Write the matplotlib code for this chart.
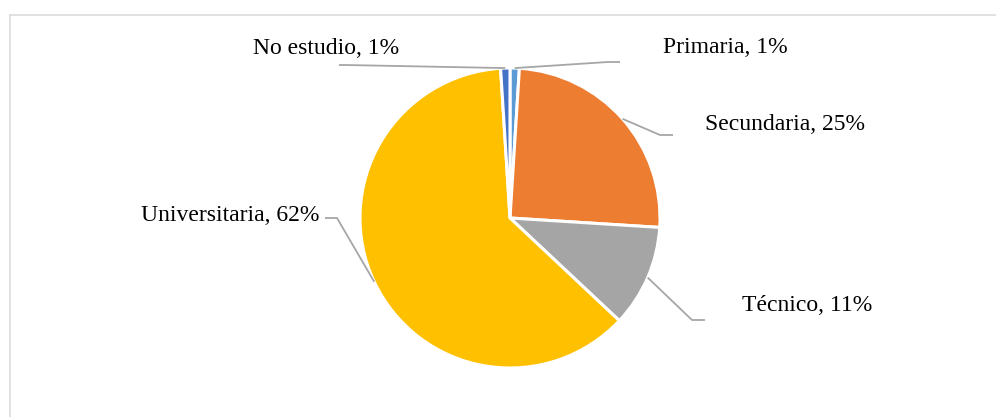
import numpy as np
import matplotlib
matplotlib.use("Agg")
import matplotlib.pyplot as plt
from matplotlib.lines import Line2D

# Nivel de estudios (porcentaje), en sentido horario desde arriba
categories = ["Primaria", "Secundaria", "Técnico", "Universitaria", "No estudio"]
values = [1, 25, 11, 62, 1]
colors = ["#5B9BD5", "#ED7D31", "#A5A5A5", "#FFC000", "#4472C4"]

W, H = 996, 417
fig = plt.figure(figsize=(W / 100, H / 100), dpi=100)
ax = fig.add_axes([0, 0, 1, 1])
ax.set_xlim(0, W)
ax.set_ylim(0, H)
ax.set_aspect("equal")
ax.axis("off")

cx, cy, r = 510, H - 218, 150
wedges, _ = ax.pie(values, colors=colors, startangle=90, counterclock=False,
                   center=(cx, cy), radius=r, frame=True,
                   wedgeprops=dict(edgecolor="white", linewidth=2.2))
ax.set_xlim(0, W)
ax.set_ylim(0, H)
ax.axis("off")

# label layout: (elbow point, end point, text x, text baseline y, alignment) in pixels from top-left
layout = {
    "Primaria":      ((608, 62), (620, 62), 663, 53, "left"),
    "Secundaria":    ((660, 135), (673, 135), 705, 130, "left"),
    "Técnico":       ((692, 320), (705, 320), 742, 311, "left"),
    "Universitaria": ((337, 218), (325, 218), 141, 221, "left"),
    "No estudio":    ((345, 65), (339, 65), 253, 54, "left"),
}

line_color = "#A6A6A6"
for w, cat, val in zip(wedges, categories, values):
    mid = np.deg2rad((w.theta1 + w.theta2) / 2)
    x0 = cx + r * np.cos(mid)
    y0 = cy + r * np.sin(mid)
    (ex, ey), (fx, fy), tx, ty, ha = layout[cat]
    ax.plot([x0, ex, fx], [y0, H - ey, H - fy], color=line_color, lw=1.3,
            solid_capstyle="butt", zorder=1)
    ax.text(tx, H - ty, f"{cat}, {val}%", ha=ha, va="baseline",
            fontsize=17, family="Liberation Serif", color="#000000")

# chart area border
fig.add_artist(Line2D([9.5 / W, 1], [1 - 14.5 / H] * 2, transform=fig.transFigure,
                      color="#D9D9D9", lw=1.1))
fig.add_artist(Line2D([9.5 / W] * 2, [0, 1 - 14.5 / H], transform=fig.transFigure,
                      color="#D9D9D9", lw=1.1))

fig.savefig("out.png", dpi=100, facecolor="white")
